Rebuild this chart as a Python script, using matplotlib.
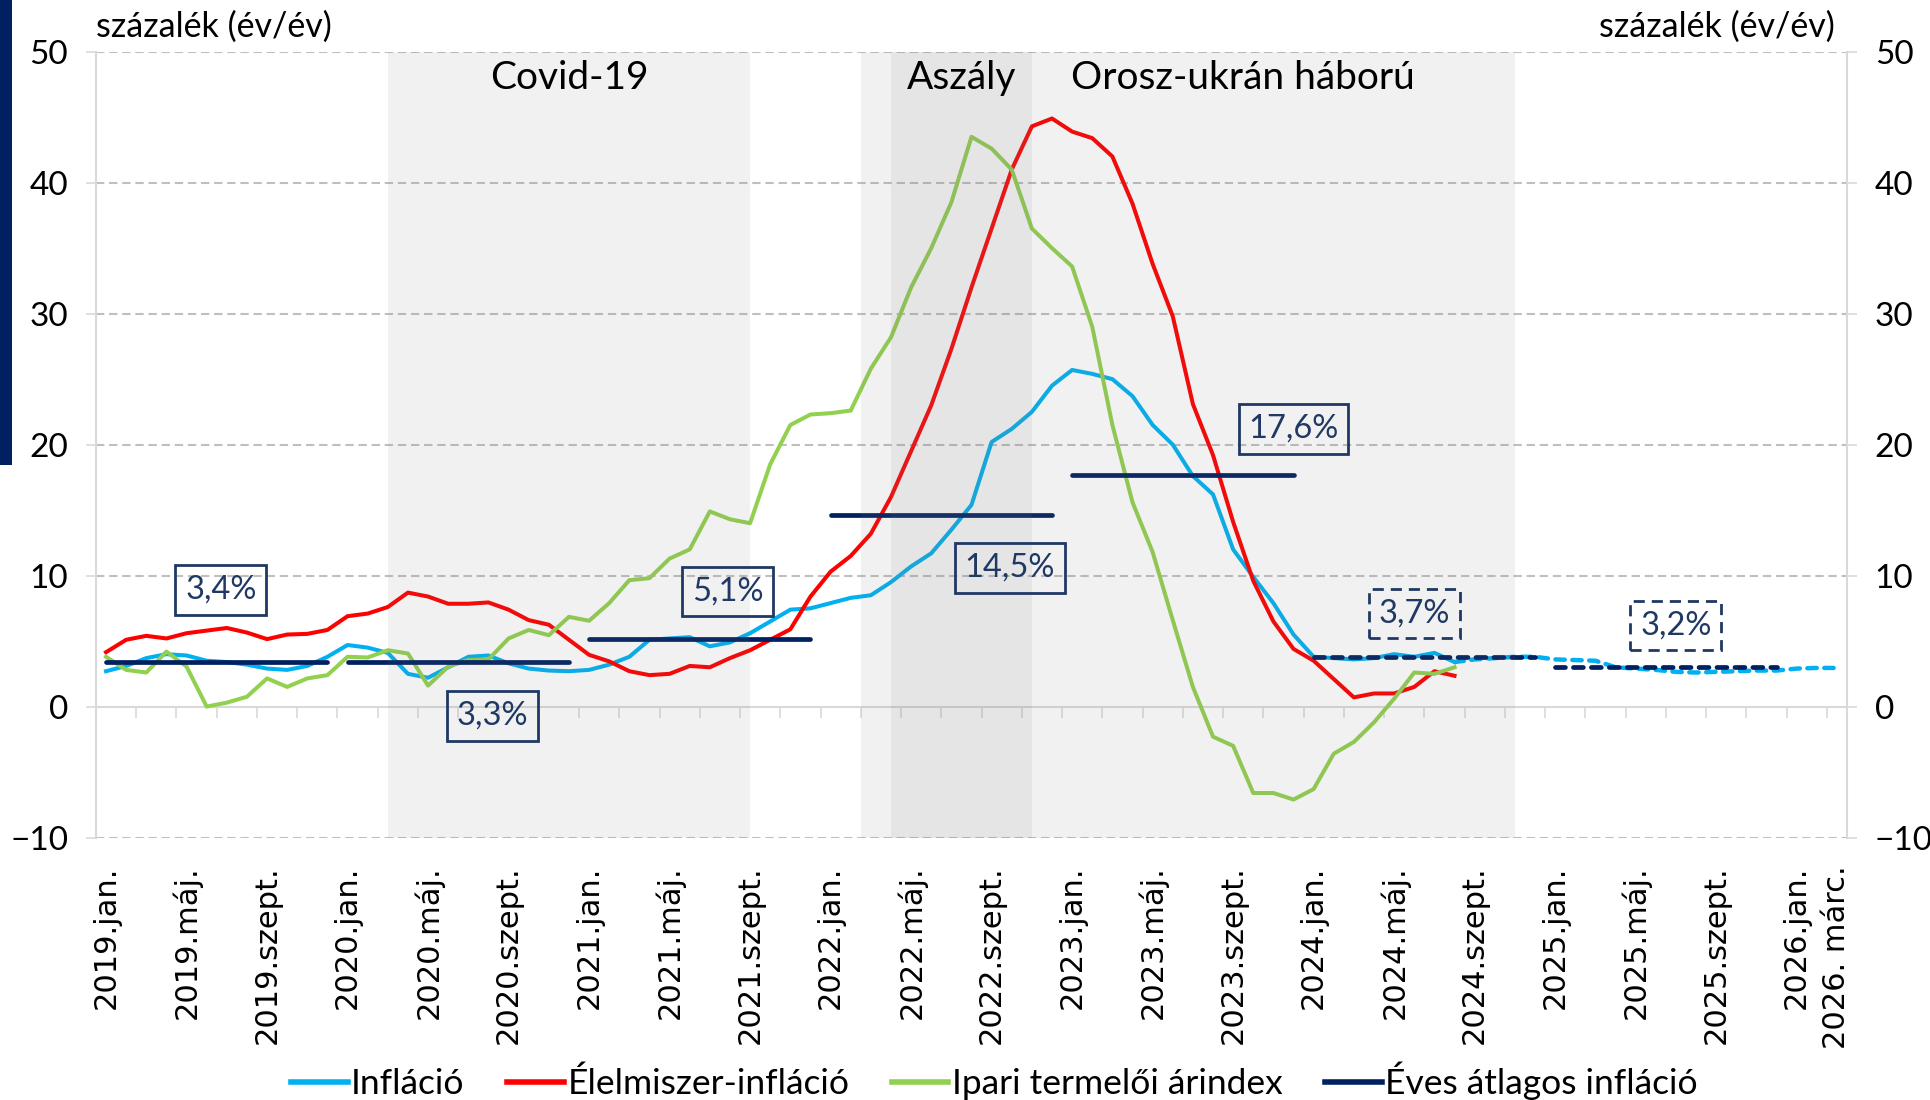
import numpy as np
import matplotlib.pyplot as plt
from matplotlib.patches import Rectangle

plt.rcParams['font.family'] = ['Lato', 'DejaVu Sans']

# monthly data, index 0 = 2019 jan
inflation = [2.7, 3.1, 3.7, 4.0, 3.9, 3.5, 3.4, 3.2, 2.9, 2.8, 3.1, 3.8,
             4.7, 4.5, 4.1, 2.5, 2.2, 3.0, 3.8, 3.9, 3.3, 2.9, 2.75, 2.7,
             2.8, 3.2, 3.8, 5.1, 5.2, 5.3, 4.6, 4.9, 5.6, 6.5, 7.4, 7.5,
             7.9, 8.3, 8.5, 9.5, 10.7, 11.7, 13.5, 15.4, 20.2, 21.2, 22.5, 24.5,
             25.7, 25.4, 25.0, 23.7, 21.5, 20.0, 17.6, 16.2, 12.0, 9.9, 7.9, 5.5,
             3.8, 3.7, 3.6, 3.7, 4.0, 3.8, 4.1, 3.4]

food = [4.15, 5.1, 5.4, 5.2, 5.6, 5.8, 6.0, 5.65, 5.15, 5.5, 5.55, 5.85,
        6.9, 7.1, 7.6, 8.7, 8.4, 7.85, 7.85, 7.95, 7.4, 6.6, 6.25, 5.1,
        3.95, 3.45, 2.7, 2.4, 2.5, 3.1, 3.0, 3.7, 4.3, 5.1, 5.9, 8.4,
        10.3, 11.5, 13.2, 16.0, 19.5, 23.0, 27.3, 32.0, 36.5, 41.0, 44.3, 44.9,
        43.9, 43.4, 42.0, 38.4, 33.8, 29.8, 23.1, 19.2, 14.1, 9.6, 6.5, 4.4,
        3.5, 2.1, 0.7, 1.0, 1.0, 1.5, 2.7, 2.35]

ppi = [3.8, 2.8, 2.6, 4.2, 3.05, 0.0, 0.3, 0.75, 2.15, 1.5, 2.15, 2.4,
       3.8, 3.75, 4.3, 4.05, 1.6, 3.05, 3.55, 3.6, 5.2, 5.85, 5.45, 6.85,
       6.55, 7.9, 9.65, 9.8, 11.3, 12.0, 14.9, 14.3, 14.0, 18.5, 21.5, 22.3,
       22.4, 22.6, 25.8, 28.2, 32.0, 35.0, 38.5, 43.5, 42.6, 41.0, 36.5, 35.0,
       33.6, 29.0, 21.5, 15.6, 11.8, 6.6, 1.5, -2.3, -3.0, -6.6, -6.6, -7.1,
       -6.3, -3.6, -2.7, -1.2, 0.6, 2.6, 2.5, 3.0]

# forecast, from 2024 aug (index 67) to 2026 márc (index 86)
inflation_fc = [3.4, 3.6, 3.7, 3.8, 3.8, 3.6, 3.55, 3.5, 3.0, 2.9, 2.8, 2.65,
                2.6, 2.65, 2.7, 2.75, 2.75, 2.9, 2.95, 2.95]

# annual averages 2019..2025
avg_years = [2019, 2020, 2021, 2022, 2023, 2024, 2025]
avg_level = [3.4, 3.4, 5.15, 14.6, 17.7, 3.75, 3.0]
avg_label = ['3,4%', '3,3%', '5,1%', '14,5%', '17,6%', '3,7%', '3,2%']
avg_dashed = [False, False, False, False, False, True, True]
label_x = [5.7, 19.2, 30.9, 44.9, 59.0, 65.0, 78.0]
label_y = [8.9, -0.7, 8.8, 10.6, 21.2, 7.1, 6.2]

n_months = 87
tick_pos = list(range(0, 85, 4)) + [86]
tick_labels = []
for year in range(2019, 2027):
    for m in ['jan.', 'máj.', 'szept.']:
        if year == 2026 and m != 'jan.':
            continue
        tick_labels.append(f'{year}.{m}')
tick_labels.append('2026. márc.')

c_blue = '#00B0F0'
c_red = '#FF0000'
c_green = '#92D050'
c_navy = '#002060'
c_box = '#1F3864'
c_grid = '#BFBFBF'
c_axis = '#D9D9D9'

fig = plt.figure(figsize=(19.31, 11.0), dpi=100)
ax = fig.add_axes([0.0497, 0.2386, 0.9068, 0.7144])

fig.add_artist(Rectangle((0, 1 - 465 / 1100), 12 / 1931, 465 / 1100,
                         transform=fig.transFigure, color=c_navy, lw=0))

x = np.arange(len(inflation))
ax.plot(x, inflation, color=c_blue, lw=2.9, zorder=3, solid_joinstyle='round')
ax.plot(x, food, color=c_red, lw=2.9, zorder=3, solid_joinstyle='round')
ax.plot(x, ppi, color=c_green, lw=2.9, zorder=3, solid_joinstyle='round')
x_fc = np.arange(67, 67 + len(inflation_fc))
ax.plot(x_fc, inflation_fc, color=c_blue, lw=3.2, zorder=3,
        linestyle=(0, (2.1, 1.7)), dash_capstyle='round')

for k, level in enumerate(avg_level):
    xs = np.arange(12 * k, 12 * k + 12)
    if avg_dashed[k]:
        ax.plot(xs, [level] * 12, color=c_navy, lw=3.4, zorder=3.5,
                linestyle=(0, (2.1, 1.7)), dash_capstyle='round')
    else:
        ax.plot(xs, [level] * 12, color=c_navy, lw=3.4, zorder=3.5,
                solid_capstyle='round')
    ax.text(label_x[k], label_y[k], avg_label[k], ha='center', va='center',
            fontsize=23.5, color=c_box, zorder=6,
            bbox=dict(boxstyle='square,pad=0.3', fc='none', ec=c_box, lw=2,
                      ls=(0, (4, 2.5)) if avg_dashed[k] else '-'))

# shaded periods, drawn on top like in the original
ax.axvspan(14, 32, color='#7F7F7F', alpha=0.1, lw=0, zorder=4)
ax.axvspan(37.5, 70, color='#7F7F7F', alpha=0.1, lw=0, zorder=4)
ax.axvspan(39, 46, color='#7F7F7F', alpha=0.1, lw=0, zorder=4)
ax.text(23, 48, 'Covid-19', ha='center', va='center', fontsize=28, zorder=6)
ax.text(42.5, 48, 'Aszály', ha='center', va='center', fontsize=28, zorder=6)
ax.text(56.5, 48, 'Orosz-ukrán háború', ha='center', va='center', fontsize=28, zorder=6)

ax.set_xlim(-0.5, n_months - 0.5)
ax.set_ylim(-10, 50)
ax.set_yticks(range(-10, 51, 10))
ax.grid(axis='y', color=c_grid, lw=1.5, linestyle=(0, (4, 2.3)), zorder=0)
for val, gl in zip(range(-10, 51, 10), ax.get_ygridlines()):
    if val == 0:
        gl.set_visible(False)
ax.axhline(0, color=c_axis, lw=1.5, zorder=1)
ax.set_axisbelow(True)

ax.tick_params(axis='y', left=True, right=True, labelleft=True, labelright=True,
               length=7, width=1.2, color=c_axis, labelsize=24, pad=13)
ax.set_xticks(tick_pos)
ax.set_xticklabels(tick_labels, rotation=90, family='DejaVu Sans', fontsize=22)
ax.tick_params(axis='x', length=0, pad=20)

for s in ['top', 'bottom']:
    ax.spines[s].set_visible(False)
for s in ['left', 'right']:
    ax.spines[s].set_color(c_axis)
    ax.spines[s].set_linewidth(1.5)

# tick marks on the zero line
sec = ax.secondary_xaxis(1 / 6)
sec.set_xticks(np.arange(1.5, n_months - 1, 2))
sec.set_xticklabels([])
sec.tick_params(length=8, width=1.2, color=c_axis, direction='out')
sec.spines['bottom'].set_visible(False)

fig.text(96 / 1931, 1 - 27 / 1100, 'százalék (év/év)', ha='left', va='center', fontsize=24.5)
fig.text(1835 / 1931, 1 - 27 / 1100, 'százalék (év/év)', ha='right', va='center', fontsize=24.5)

handles = [plt.Line2D([], [], color=c, lw=4) for c in [c_blue, c_red, c_green, c_navy]]
fig.legend(handles, ['Infláció', 'Élelmiszer-infláció', 'Ipari termelői árindex',
                     'Éves átlagos infláció'],
           loc='center', bbox_to_anchor=(0.515, 0.0175), ncol=4, frameon=False,
           fontsize=25.5, handlelength=1.6, handletextpad=0.1, columnspacing=1.2)

fig.savefig('out.png', dpi=100)
